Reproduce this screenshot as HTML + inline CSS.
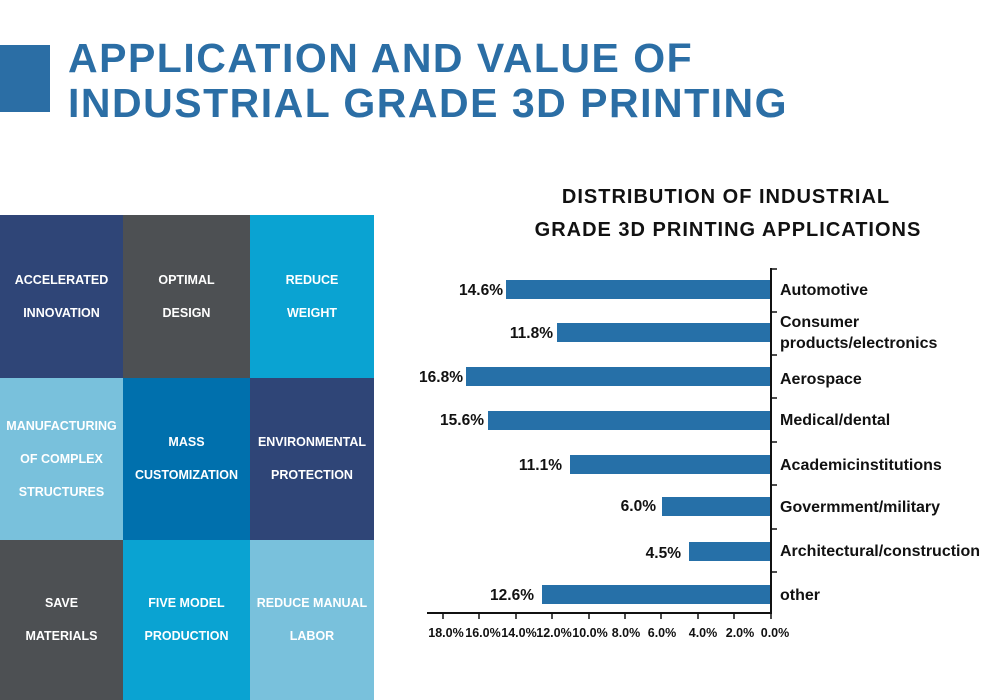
<!DOCTYPE html>
<html><head><meta charset="utf-8"><style>
body{margin:0;width:1000px;height:700px;background:#fff;position:relative;overflow:hidden;font-family:"Liberation Sans",Arial,sans-serif}
.t{position:absolute;left:68px;top:36px;color:#2b6ea5;font-weight:bold;font-size:41px;line-height:45px;letter-spacing:1.5px}
.sq{position:absolute;left:0;top:45px;width:50px;height:67px;background:#2b6ea5}
.c{position:absolute;display:flex;align-items:center;justify-content:center;text-align:center;color:#fff;font-size:12.5px;font-weight:bold;line-height:33px}
</style></head><body>
<div class="sq"></div>
<div class="t">APPLICATION AND VALUE OF<br>INDUSTRIAL GRADE 3D PRINTING</div>
<div class="c" style="left:0;top:215px;width:123px;height:163px;background:#2f4577">ACCELERATED<br>INNOVATION</div>
<div class="c" style="left:123px;top:215px;width:127px;height:163px;background:#4d5053">OPTIMAL<br>DESIGN</div>
<div class="c" style="left:250px;top:215px;width:124px;height:163px;background:#0aa3d2">REDUCE<br>WEIGHT</div>
<div class="c" style="left:0;top:378px;width:123px;height:162px;background:#79c1dc">MANUFACTURING<br>OF COMPLEX<br>STRUCTURES</div>
<div class="c" style="left:123px;top:378px;width:127px;height:162px;background:#0070ad">MASS<br>CUSTOMIZATION</div>
<div class="c" style="left:250px;top:378px;width:124px;height:162px;background:#2f4577">ENVIRONMENTAL<br>PROTECTION</div>
<div class="c" style="left:0;top:540px;width:123px;height:160px;background:#4d5053">SAVE<br>MATERIALS</div>
<div class="c" style="left:123px;top:540px;width:127px;height:160px;background:#0aa3d2">FIVE MODEL<br>PRODUCTION</div>
<div class="c" style="left:250px;top:540px;width:124px;height:160px;background:#79c1dc">REDUCE MANUAL<br>LABOR</div>
<svg width="1000" height="700" style="position:absolute;left:0;top:0" font-family="Liberation Sans,Arial,sans-serif" font-weight="bold">
<text x="726" y="203" text-anchor="middle" font-size="20" fill="#111" letter-spacing="1">DISTRIBUTION OF INDUSTRIAL</text>
<text x="728" y="236" text-anchor="middle" font-size="20" fill="#111" letter-spacing="1">GRADE 3D PRINTING APPLICATIONS</text>
<g fill="#2670a8">
<rect x="506" y="280" width="265" height="19"/>
<rect x="557" y="323" width="214" height="19"/>
<rect x="466" y="367" width="305" height="19"/>
<rect x="488" y="411" width="283" height="19"/>
<rect x="570" y="455" width="201" height="19"/>
<rect x="662" y="497" width="109" height="19"/>
<rect x="689" y="542" width="82" height="19"/>
<rect x="542" y="585" width="229" height="19"/>
</g>
<g stroke="#111" stroke-width="2">
<line x1="771" y1="268" x2="771" y2="613"/>
<line x1="427" y1="613" x2="772" y2="613"/>
</g>
<g stroke="#111" stroke-width="1.5">
<line x1="771" y1="269" x2="777" y2="269"/><line x1="771" y1="312" x2="777" y2="312"/><line x1="771" y1="355" x2="777" y2="355"/><line x1="771" y1="398" x2="777" y2="398"/><line x1="771" y1="442" x2="777" y2="442"/><line x1="771" y1="485" x2="777" y2="485"/><line x1="771" y1="529" x2="777" y2="529"/><line x1="771" y1="572" x2="777" y2="572"/>
<line x1="443" y1="613" x2="443" y2="619"/><line x1="479" y1="613" x2="479" y2="619"/><line x1="516" y1="613" x2="516" y2="619"/><line x1="552" y1="613" x2="552" y2="619"/><line x1="589" y1="613" x2="589" y2="619"/><line x1="625" y1="613" x2="625" y2="619"/><line x1="661" y1="613" x2="661" y2="619"/><line x1="698" y1="613" x2="698" y2="619"/><line x1="734" y1="613" x2="734" y2="619"/><line x1="771" y1="613" x2="771" y2="619"/>
</g>
<g font-size="15.5" fill="#111" text-anchor="end">
<text x="503" y="295">14.6%</text><text x="553" y="338">11.8%</text><text x="463" y="382">16.8%</text><text x="484" y="425">15.6%</text><text x="562" y="470">11.1%</text><text x="656" y="511">6.0%</text><text x="681" y="558">4.5%</text><text x="534" y="600">12.6%</text>
</g>
<g font-size="16" fill="#111">
<text x="780" y="295">Automotive</text><text x="780" y="327">Consumer</text><text x="780" y="348">products/electronics</text><text x="780" y="384">Aerospace</text><text x="780" y="425">Medical/dental</text><text x="780" y="470">Academicinstitutions</text><text x="780" y="512">Govermment/military</text><text x="780" y="556">Architectural/construction</text><text x="780" y="600">other</text>
</g>
<g font-size="12.5" fill="#111" text-anchor="middle">
<text x="446" y="637">18.0%</text><text x="483" y="637">16.0%</text><text x="519" y="637">14.0%</text><text x="554" y="637">12.0%</text><text x="590" y="637">10.0%</text><text x="626" y="637">8.0%</text><text x="662" y="637">6.0%</text><text x="703" y="637">4.0%</text><text x="740" y="637">2.0%</text><text x="775" y="637">0.0%</text>
</g>
</svg>
</body></html>
